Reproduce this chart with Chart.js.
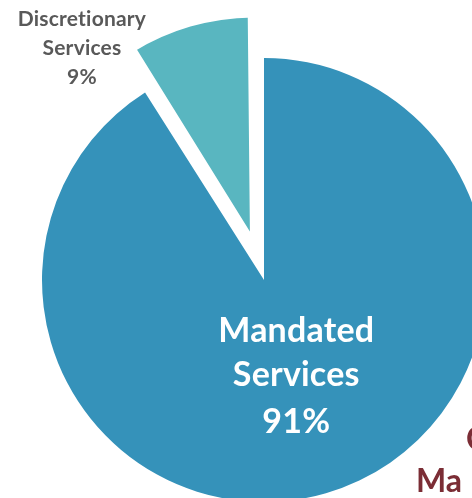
<!DOCTYPE html>
<html>
<head>
<meta charset="utf-8">
<script src="https://cdn.jsdelivr.net/npm/chart.js@4/dist/chart.umd.min.js"></script>
<style>
  html, body { margin: 0; padding: 0; background: #ffffff; overflow: hidden; }
  #wrap { position: relative; width: 472px; height: 498px; overflow: hidden; }
  #wrap canvas { position: absolute; left: 0; top: 0; }
  .ttl { position: absolute; font-family: Lato, "Open Sans", sans-serif; font-weight: 700;
         font-size: 32px; line-height: 32px; color: #7B2D35; white-space: nowrap; }
</style>
</head>
<body>
<div id="wrap">
  <canvas id="c"></canvas>
  <div class="ttl" style="left:466px; top:422px;">C</div>
  <div class="ttl" style="left:416px; top:464px;">Ma</div>
</div>
<script>
const categories = ["Mandated Services", "Discretionary Services"];
const labelLines = [["Mandated", "Services"], ["Discretionary", "Services"]];
const values = [91, 9];
const percentLabels = ["91%", "9%"];
const colors = ["#3592BA", "#59B6C0"];

const labelPlugin = {
  id: 'sliceLabels',
  afterDatasetsDraw(chart) {
    const ctx = chart.ctx;
    const arcs = chart.getDatasetMeta(0).data;
    ctx.save();
    ctx.textAlign = 'center';
    ctx.textBaseline = 'middle';
    try { ctx.letterSpacing = '0.2px'; } catch (e) {}
    // Mandated label inside slice
    const a0 = arcs[0];
    const mid0 = (a0.startAngle + a0.endAngle) / 2;
    const r0 = a0.outerRadius * 0.44;
    const x0 = a0.x + Math.cos(mid0) * r0 + 5;
    const y0 = a0.y + Math.sin(mid0) * r0 + 1;
    ctx.fillStyle = '#ffffff';
    ctx.font = 'bold 34px Lato, "Open Sans", sans-serif';
    const l0 = labelLines[0].concat([percentLabels[0]]);
    l0.forEach((t, i) => ctx.fillText(t, x0, y0 + (i - 1) * 44 + (i === 2 ? 3 : 0)));
    // Discretionary label outside, upper left
    const a1 = arcs[1];
    const x1 = a1.x - a1.outerRadius * 0.82;
    const y1 = a1.y - a1.outerRadius * 1.045;
    ctx.fillStyle = '#595959';
    ctx.font = 'bold 21px Lato, "Open Sans", sans-serif';
    const l1 = labelLines[1].concat([percentLabels[1]]);
    l1.forEach((t, i) => ctx.fillText(t, x1, y1 + (i - 1) * 29));
    ctx.restore();
  }
};

new Chart(document.getElementById('c'), {
  type: 'pie',
  data: {
    labels: categories,
    datasets: [{
      data: values,
      backgroundColor: colors,
      borderColor: '#ffffff',
      borderWidth: [0, 10],
      borderAlign: 'center',
      offset: [0, 128],
      hoverOffset: 0,
      clip: false
    }]
  },
  options: {
    responsive: true,
    maintainAspectRatio: false,
    animation: false,
    events: [],
    radius: 222,
    layout: { padding: { left: 56, top: 62, right: 0, bottom: 0 } },
    plugins: { legend: { display: false }, tooltip: { enabled: false } }
  },
  plugins: [labelPlugin]
});
</script>
</body>
</html>
